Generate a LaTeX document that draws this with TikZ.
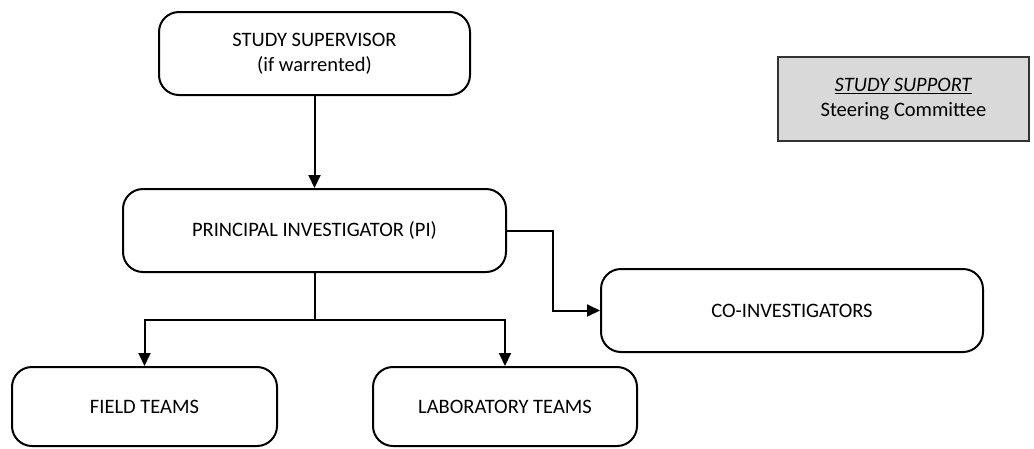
\documentclass[tikz,border=0pt]{standalone}
\usepackage{fontspec}
\setmainfont{Carlito}
\usetikzlibrary{arrows.meta}
\tikzset{
  box/.style={draw=black, line width=2pt, rounded corners=20pt, inner sep=0pt,
    align=center, font=\fontsize{20.5}{25}\selectfont},
  supportbox/.style={draw=black!80, fill=black!15, line width=2.4pt, inner sep=0pt,
    align=center, font=\fontsize{20.5}{25}\selectfont},
  conn/.style={line width=2pt},
  arr/.style={conn, -{Triangle[length=13pt,width=12pt]}},
}
\begin{document}
\begin{tikzpicture}[x=1pt,y=-1pt]
\useasboundingbox (0,0) rectangle (1034,448);
\node[box, minimum width=311pt, minimum height=83pt] (sup) at (314.5,53.5) {STUDY SUPERVISOR\\(if warrented)};
\node[supportbox, minimum width=251pt, minimum height=84pt] (support) at (903.5,99) {\underline{\textit{STUDY SUPPORT}}\\Steering Committee};
\node[box, minimum width=383pt, minimum height=83pt] (pi) at (314.5,230.5) {PRINCIPAL INVESTIGATOR (PI)};
\node[box, minimum width=382pt, minimum height=83pt] (coi) at (792,310.5) {CO-INVESTIGATORS};
\node[box, minimum width=265pt, minimum height=79pt] (field) at (144.5,406.5) {FIELD TEAMS};
\node[box, minimum width=264pt, minimum height=79pt] (lab) at (505,406.5) {LABORATORY TEAMS};
\coordinate (bend) at (553,230.5);
\coordinate (split) at (314.5,320);
\draw[arr] (sup.south) -- (pi.north);
\draw[arr] (pi.east) -- (bend) |- (coi.west);
\draw[conn] (pi.south) -- (split);
\draw[arr] (split) -| (field.north);
\draw[arr] (split) -| (lab.north);
\end{tikzpicture}
\end{document}
